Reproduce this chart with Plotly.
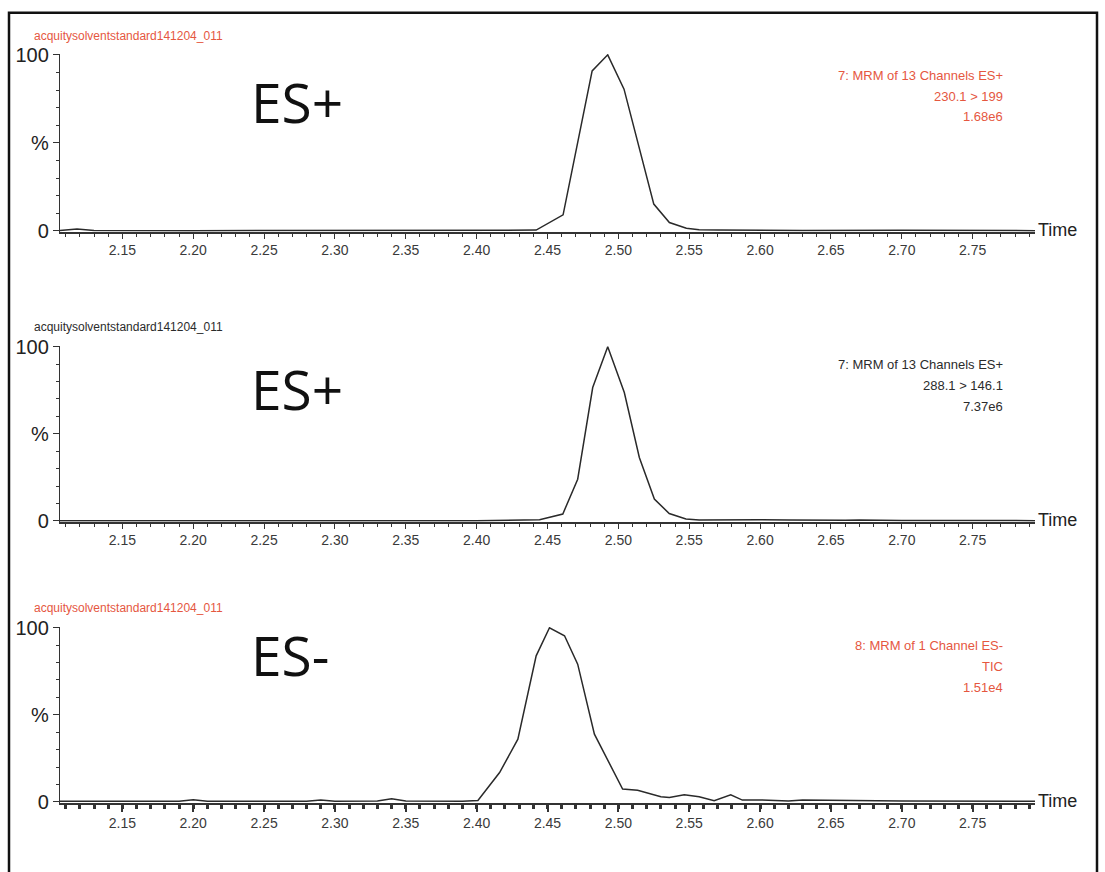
import plotly.graph_objects as go

W, H = 1105, 872

# ---- chromatogram traces (retention time in min, relative intensity in %) ----
time_a = [2.106, 2.112, 2.118, 2.124, 2.130, 2.20, 2.30, 2.40, 2.43, 2.442, 2.461,
          2.4815, 2.4925, 2.504, 2.525, 2.536, 2.548, 2.557, 2.57, 2.59, 2.61, 2.63,
          2.70, 2.794]
inten_a = [0.2, 0.6, 1.0, 0.6, 0.2, 0.1, 0.1, 0.2, 0.3, 0.4, 9.1,
           90.9, 100.0, 80.5, 15.2, 4.7, 1.5, 0.6, 0.5, 0.4, 0.3, 0.2,
           0.3, 0.1]

time_b = [2.106, 2.20, 2.30, 2.40, 2.4444, 2.4608, 2.4713, 2.4819, 2.4925, 2.5042,
          2.5148, 2.5254, 2.5359, 2.5477, 2.557, 2.58, 2.60, 2.62, 2.64, 2.66, 2.67,
          2.70, 2.794]
inten_b = [0.1, 0.1, 0.1, 0.1, 0.6, 3.9, 23.9, 76.6, 100.0, 73.7,
           36.4, 12.5, 4.2, 1.0, 0.5, 0.7, 0.6, 0.5, 0.2, 0.3, 0.5,
           0.2, 0.1]

time_c = [2.106, 2.19, 2.20, 2.21, 2.28, 2.29, 2.30, 2.33, 2.34, 2.35, 2.39, 2.4009,
          2.4162, 2.4291, 2.442, 2.4514, 2.462, 2.4713, 2.4831, 2.503, 2.5136, 2.53,
          2.536, 2.5465, 2.557, 2.5676, 2.5793, 2.5875, 2.5993, 2.62, 2.63, 2.70, 2.794]
inten_c = [0.3, 0.3, 1.2, 0.3, 0.3, 1.0, 0.3, 0.5, 1.8, 0.5, 0.3, 0.8,
           16.8, 36.0, 83.9, 100.0, 95.4, 79.1, 38.9, 7.3, 6.7, 2.9,
           2.5, 4.0, 2.9, 0.6, 4.0, 1.0, 1.1, 0.5, 1.0, 0.5, 0.3]

# ---- panel texts ----
file_name = "acquitysolventstandard141204_011"
mode_labels = ["ES+", "ES+", "ES-"]
info_lines = [
    ["7: MRM of 13 Channels ES+", "230.1 > 199", "1.68e6"],
    ["7: MRM of 13 Channels ES+", "288.1 > 146.1", "7.37e6"],
    ["8: MRM of 1 Channel ES-", "TIC", "1.51e4"],
]
x_ticks = [2.15, 2.20, 2.25, 2.30, 2.35, 2.40, 2.45, 2.50, 2.55, 2.60, 2.65, 2.70, 2.75]
y_ticks = [0, 50, 100]
y_ticktext = ["0", "%", "100"]

X_RANGE = [2.106, 2.794]
Y_RANGE = [-0.5, 100.5]

RED = "#e5573f"
INK = "#2b2b2b"
text_colors = [RED, INK, RED]

# layout rows in page pixels for each panel
panels = [
    # (row of 100 %, row of 0 %, file-name row, mode label row, info rows)
    dict(top=45.9, bottom=226.0, fname=26.4, mode=94.0, info=[67.3, 88.8, 109.3]),
    dict(top=344.7, bottom=522.8, fname=324.3, mode=387.5, info=[363.2, 384.6, 406.1]),
    dict(top=632.3, bottom=810.4, fname=611.9, mode=659.5, info=[650.8, 672.3, 693.8]),
]
x_left_px, x_right_px = 60, 1035


def px_x(x):
    return x / W


def px_y(y):
    return 1 - y / H


series = [(time_a, inten_a), (time_b, inten_b), (time_c, inten_c)]

fig = go.Figure()
annotations = []

for i, (p, (t, v)) in enumerate(zip(panels, series)):
    n = "" if i == 0 else str(i + 1)
    top, bottom = p["top"], p["bottom"]
    per_unit = (bottom - top) / 100.0
    y_top = top - (Y_RANGE[1] - 100) * per_unit
    y_bot = bottom + (0 - Y_RANGE[0]) * per_unit

    fig.add_trace(go.Scatter(
        x=t, y=v, mode="lines", xaxis="x" + n, yaxis="y" + n,
        line=dict(color="#2a2a2a", width=1.5), showlegend=False,
        hoverinfo="skip",
    ))

    heavy = i == 2
    fig.layout["xaxis" + n] = dict(
        domain=[px_x(x_left_px), px_x(x_right_px)],
        anchor="y" + n, range=X_RANGE,
        tickmode="array", tickvals=x_ticks, ticktext=[f"{v:.2f}" for v in x_ticks],
        showline=True, linecolor="#333333", linewidth=1.7,
        ticks="outside", ticklen=7 if heavy else 5, tickwidth=2 if heavy else 1.2,
        tickcolor="#333333",
        minor=dict(dtick=0.01, tick0=2.15, ticks="outside",
                   ticklen=4 if heavy else 3, tickwidth=3 if heavy else 1,
                   tickcolor="#333333"),
        tickfont=dict(family="Liberation Sans Narrow, Liberation Sans, Arial", size=14,
                      color="#3a3a3a"),
        showgrid=False, zeroline=False, fixedrange=True,
    )
    fig.layout["yaxis" + n] = dict(
        domain=[px_y(y_bot), px_y(y_top)],
        anchor="x" + n, range=Y_RANGE,
        tickmode="array", tickvals=y_ticks, ticktext=y_ticktext,
        showline=True, linecolor="#333333", linewidth=1.4,
        ticks="outside", ticklen=6, tickwidth=1.2, tickcolor="#333333",
        minor=dict(tickvals=[10, 20, 30, 40, 60, 70, 80, 90], ticks="outside",
                   ticklen=3, tickwidth=1, tickcolor="#333333"),
        tickfont=dict(family="Liberation Sans Narrow, Liberation Sans, Arial", size=20,
                      color="#222222"),
        showgrid=False, zeroline=False, fixedrange=True,
    )

    # file name above the panel
    annotations.append(dict(
        text=file_name, xref="paper", yref="paper",
        x=px_x(32), y=px_y(p["fname"]), xanchor="left", yanchor="middle",
        showarrow=False,
        font=dict(family="Liberation Sans Narrow, Liberation Sans", size=12,
                  color=text_colors[i]),
    ))
    # ionisation mode label
    annotations.append(dict(
        text=mode_labels[i], xref="paper", yref="paper",
        x=px_x(249), y=px_y(p["mode"]), xanchor="left", yanchor="middle",
        showarrow=False,
        font=dict(family="Open Sans, Noto Sans, DejaVu Sans", size=55, color="#111111"),
    ))
    # channel description, right aligned
    for k, line in enumerate(info_lines[i]):
        annotations.append(dict(
            text=line, xref="paper", yref="paper",
            x=px_x(1005), y=px_y(p["info"][k]), xanchor="right", yanchor="middle",
            showarrow=False,
            font=dict(family="Liberation Sans, Arial", size=13, color=text_colors[i]),
        ))
    # axis name at the end of the time axis
    annotations.append(dict(
        text="Time", xref="paper", yref="paper",
        x=px_x(1036), y=px_y(bottom - 1), xanchor="left", yanchor="middle",
        showarrow=False,
        font=dict(family="Liberation Sans Narrow, Liberation Sans, Arial", size=18,
                  color="#222222"),
    ))

fig.update_layout(
    width=W, height=H,
    margin=dict(l=0, r=0, t=0, b=0),
    paper_bgcolor="white", plot_bgcolor="white",
    annotations=annotations,
    shapes=[dict(type="rect", xref="paper", yref="paper",
                 x0=px_x(9), x1=px_x(1097), y0=px_y(884), y1=px_y(2.9),
                 line=dict(color="#111111", width=2.5))],
)

fig.write_html("out.html", config={"displayModeBar": False})
